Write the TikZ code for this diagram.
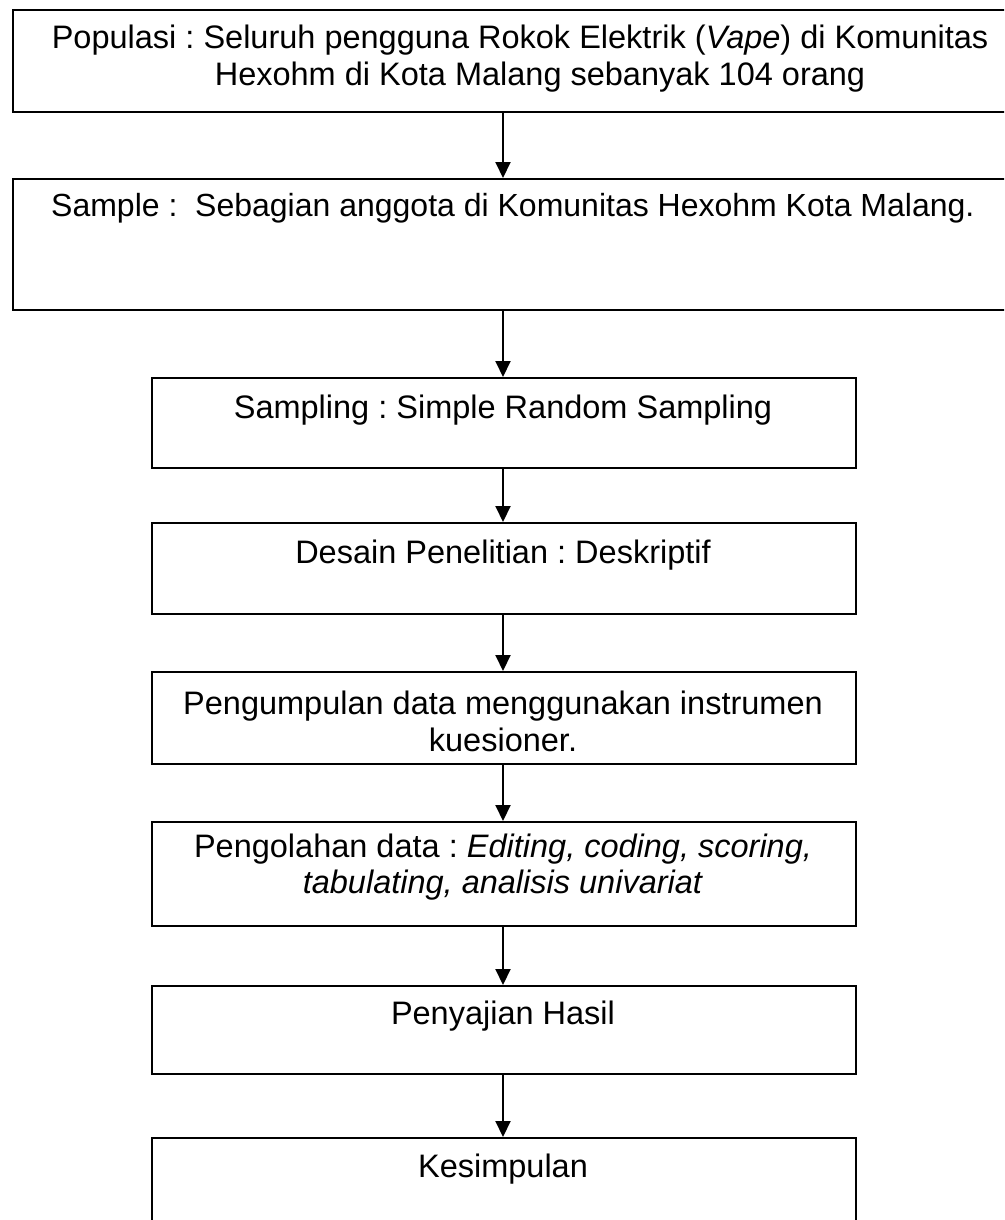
\documentclass[tikz,border=0pt]{standalone}
\usepackage{fontspec}
\setmainfont{Liberation Sans}
\usetikzlibrary{arrows.meta}
\frenchspacing
\begin{document}
\begin{tikzpicture}[x=1pt,y=-1pt,
  box/.style={draw, line width=2pt, inner sep=0pt, anchor=north west, minimum width=#1},
  box/.default=704pt,
  txt/.style={font=\fontsize{32.5}{37}\selectfont, inner sep=0pt, anchor=base},
  arr/.style={line width=2pt, -{Triangle[width=15pt,length=16pt]}}]
\clip (0,0) rectangle (1004,1220);
\fill[white] (0,0) rectangle (1004,1220);
\coordinate (ax) at (503,0);
% boxes
\node[box=1040pt, minimum height=102pt] (b1) at (12,9) {};
\node[box=1040pt, minimum height=131pt] (b2) at (12,178) {};
\node[box, minimum height=90pt] (b3) at (151,377) {};
\node[box, minimum height=91pt] (b4) at (151,522) {};
\node[box, minimum height=92pt] (b5) at (151,671) {};
\node[box, minimum height=104pt] (b6) at (151,821) {};
\node[box, minimum height=88pt] (b7) at (151,985) {};
\node[box, minimum height=200pt] (b8) at (151,1137) {};
% texts
\node[txt] (t1a) at (520,49) {Populasi : Seluruh pengguna Rokok Elektrik (\textit{Vape}) di Komunitas};
\node[txt] (t1b) at (540,86) {Hexohm di Kota Malang sebanyak 104 orang};
\node[txt, font=\fontsize{32}{37}\selectfont, anchor=base west] (t2) at (51,216) {Sample :\ \ Sebagian anggota di Komunitas Hexohm Kota Malang.};
\node[txt] (t3) at (503,418) {Sampling : Simple Random Sampling};
\node[txt] (t4) at (503,563) {Desain Penelitian : Deskriptif};
\node[txt] (t5a) at (503,714) {Pengumpulan data menggunakan instrumen};
\node[txt] (t5b) at (503,751) {kuesioner.};
\node[txt] (t6a) at (503,857) {Pengolahan data : \textit{Editing, coding, scoring,}};
\node[txt] (t6b) at (503,893) {\textit{tabulating, analisis univariat}};
\node[txt] (t7) at (503,1024) {Penyajian Hasil};
\node[txt] (t8) at (503,1177) {Kesimpulan};
% arrows
\draw[arr] (b1.south -| ax) -- (b2.north -| ax);
\draw[arr] (b2.south -| ax) -- (b3.north -| ax);
\draw[arr] (b3.south -| ax) -- (b4.north -| ax);
\draw[arr] (b4.south -| ax) -- (b5.north -| ax);
\draw[arr] (b5.south -| ax) -- (b6.north -| ax);
\draw[arr] (b6.south -| ax) -- (b7.north -| ax);
\draw[arr] (b7.south -| ax) -- (b8.north -| ax);
\end{tikzpicture}
\end{document}
